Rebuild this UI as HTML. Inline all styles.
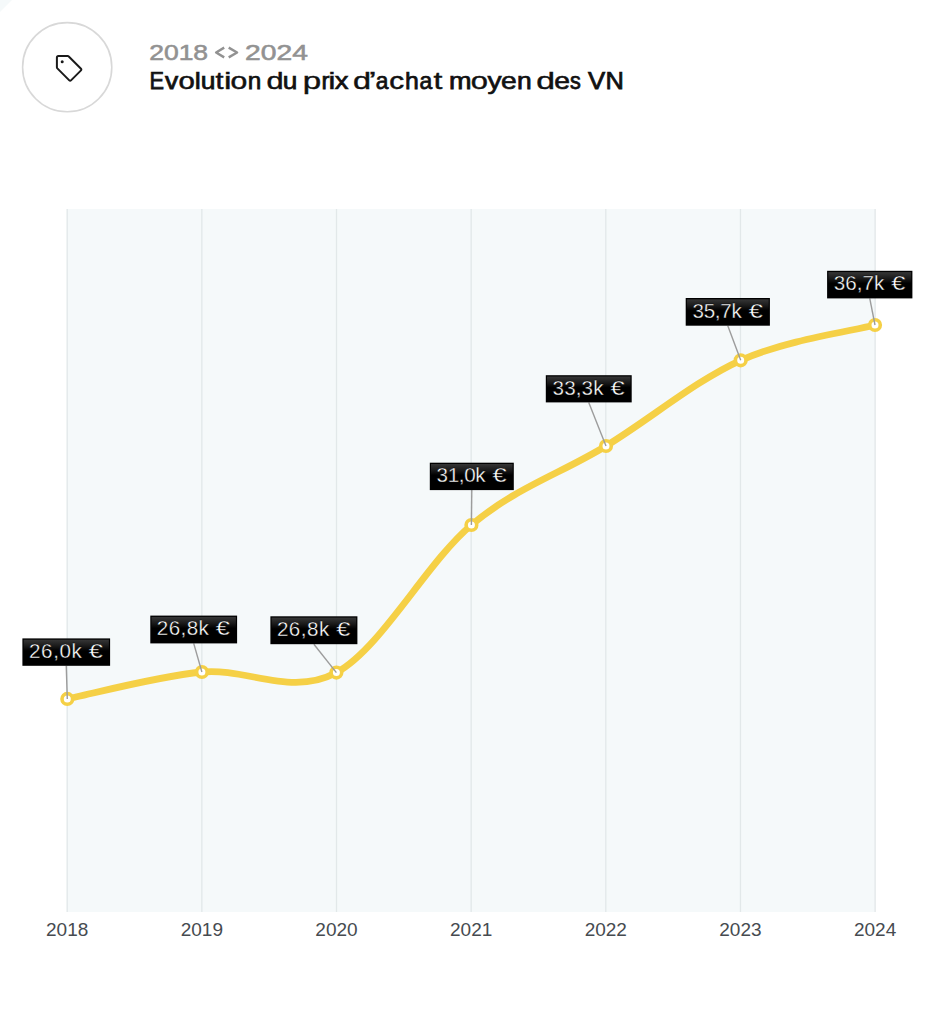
<!DOCTYPE html>
<html lang="fr"><head><meta charset="utf-8"><title>Evolution du prix d'achat moyen des VN</title>
<style>
html,body{margin:0;padding:0;background:#fff;}
body{width:933px;height:1024px;position:relative;overflow:hidden;font-family:"Liberation Sans",sans-serif;}
svg{position:absolute;left:0;top:0;display:block}
</style></head><body>
<svg width="933" height="1024" viewBox="0 0 933 1024">
<defs><linearGradient id="lg" x1="0" y1="0" x2="0" y2="1"><stop offset="0" stop-color="#363636"/><stop offset="0.25" stop-color="#1a1a1a"/><stop offset="0.45" stop-color="#000"/></linearGradient></defs>
<polygon points="0,0 12,0 0,12" fill="#f5f9fa"/>
<rect x="66.7" y="209" width="809" height="703" fill="#f5f9fa"/>
<rect x="66.55" y="209" width="1.3" height="703" fill="#e2e8e9"/>
<rect x="201.20" y="209" width="1.3" height="703" fill="#e2e8e9"/>
<rect x="335.85" y="209" width="1.3" height="703" fill="#e2e8e9"/>
<rect x="470.50" y="209" width="1.3" height="703" fill="#e2e8e9"/>
<rect x="605.15" y="209" width="1.3" height="703" fill="#e2e8e9"/>
<rect x="739.80" y="209" width="1.3" height="703" fill="#e2e8e9"/>
<rect x="874.45" y="209" width="1.3" height="703" fill="#e2e8e9"/>
<circle cx="67.2" cy="67.2" r="44.6" fill="#fff" stroke="#d8d8d8" stroke-width="1.6"/>
<path d="M58.4,55.8 H67.7 a1.5,1.5 0 0 1 1.06,0.44 L81.0,68.5 a1.2,1.2 0 0 1 0,1.7 L71.0,80.2 a1.2,1.2 0 0 1 -1.7,0 L57.34,68.2 a1.5,1.5 0 0 1 -0.44,-1.06 V57.3 a1.5,1.5 0 0 1 1.5,-1.5 Z" fill="none" stroke="#1a1a1a" stroke-width="2" stroke-linejoin="round" transform="translate(0,0.2)"/>
<circle cx="62.2" cy="61.8" r="1.5" fill="#1a1a1a"/>
<text x="149.18" y="60.4" font-family="Liberation Sans, sans-serif" font-size="22.1" fill="#929292" stroke="#929292" stroke-width="0.55" textLength="58.94" lengthAdjust="spacingAndGlyphs">2018</text>
<text x="245.14" y="60.4" font-family="Liberation Sans, sans-serif" font-size="22.1" fill="#929292" stroke="#929292" stroke-width="0.55" textLength="62.83" lengthAdjust="spacingAndGlyphs">2024</text>
<path d="M224.2,47.65 L216.1,52.5 L224.2,57.35 M228.7,47.65 L237.1,52.5 L228.7,57.35" fill="none" stroke="#929292" stroke-width="2.4" stroke-linejoin="round"/>
<text x="149.42" y="88.5" font-family="Liberation Sans, sans-serif" font-size="23.2" font-weight="normal" fill="#111" stroke="#111" stroke-width="0.75" textLength="14.52" lengthAdjust="spacingAndGlyphs">E</text>
<text x="164.93" y="88.5" font-family="Liberation Sans, sans-serif" font-size="23.2" font-weight="normal" fill="#111" stroke="#111" stroke-width="0.75" textLength="13.20" lengthAdjust="spacingAndGlyphs">v</text>
<text x="178.60" y="88.5" font-family="Liberation Sans, sans-serif" font-size="23.2" font-weight="normal" fill="#111" stroke="#111" stroke-width="0.54" textLength="16.33" lengthAdjust="spacingAndGlyphs">o</text>
<text x="194.21" y="88.5" font-family="Liberation Sans, sans-serif" font-size="23.2" font-weight="normal" fill="#111" stroke="#111" stroke-width="0.40" textLength="6.96" lengthAdjust="spacingAndGlyphs">l</text>
<text x="200.66" y="88.5" font-family="Liberation Sans, sans-serif" font-size="23.2" font-weight="normal" fill="#111" stroke="#111" stroke-width="0.75" textLength="14.71" lengthAdjust="spacingAndGlyphs">u</text>
<text x="215.59" y="88.5" font-family="Liberation Sans, sans-serif" font-size="23.2" font-weight="normal" fill="#111" stroke="#111" stroke-width="0.51" textLength="8.01" lengthAdjust="spacingAndGlyphs">t</text>
<text x="224.11" y="88.5" font-family="Liberation Sans, sans-serif" font-size="23.2" font-weight="normal" fill="#111" stroke="#111" stroke-width="0.40" textLength="7.52" lengthAdjust="spacingAndGlyphs">i</text>
<text x="230.64" y="88.5" font-family="Liberation Sans, sans-serif" font-size="23.2" font-weight="normal" fill="#111" stroke="#111" stroke-width="0.48" textLength="16.76" lengthAdjust="spacingAndGlyphs">o</text>
<text x="247.70" y="88.5" font-family="Liberation Sans, sans-serif" font-size="23.2" font-weight="normal" fill="#111" stroke="#111" stroke-width="0.75" textLength="13.53" lengthAdjust="spacingAndGlyphs">n</text>
<text x="266.59" y="88.5" font-family="Liberation Sans, sans-serif" font-size="23.2" font-weight="normal" fill="#111" stroke="#111" stroke-width="0.43" textLength="17.13" lengthAdjust="spacingAndGlyphs">d</text>
<text x="282.78" y="88.5" font-family="Liberation Sans, sans-serif" font-size="23.2" font-weight="normal" fill="#111" stroke="#111" stroke-width="0.75" textLength="14.57" lengthAdjust="spacingAndGlyphs">u</text>
<text x="302.86" y="88.5" font-family="Liberation Sans, sans-serif" font-size="23.2" font-weight="normal" fill="#111" stroke="#111" stroke-width="0.40" textLength="18.41" lengthAdjust="spacingAndGlyphs">p</text>
<text x="321.43" y="88.5" font-family="Liberation Sans, sans-serif" font-size="23.2" font-weight="normal" fill="#111" stroke="#111" stroke-width="0.75" textLength="7.96" lengthAdjust="spacingAndGlyphs">r</text>
<text x="328.38" y="88.5" font-family="Liberation Sans, sans-serif" font-size="23.2" font-weight="normal" fill="#111" stroke="#111" stroke-width="0.40" textLength="7.28" lengthAdjust="spacingAndGlyphs">i</text>
<text x="334.65" y="88.5" font-family="Liberation Sans, sans-serif" font-size="23.2" font-weight="normal" fill="#111" stroke="#111" stroke-width="0.68" textLength="13.72" lengthAdjust="spacingAndGlyphs">x</text>
<text x="353.10" y="88.5" font-family="Liberation Sans, sans-serif" font-size="23.2" font-weight="normal" fill="#111" stroke="#111" stroke-width="0.40" textLength="18.04" lengthAdjust="spacingAndGlyphs">d</text>
<text x="368.57" y="88.5" font-family="Liberation Sans, sans-serif" font-size="23.2" font-weight="normal" fill="#111" stroke="#111" stroke-width="0.40" textLength="8.02" lengthAdjust="spacingAndGlyphs">’</text>
<text x="375.69" y="88.5" font-family="Liberation Sans, sans-serif" font-size="23.2" font-weight="normal" fill="#111" stroke="#111" stroke-width="0.75" textLength="12.66" lengthAdjust="spacingAndGlyphs">a</text>
<text x="389.37" y="88.5" font-family="Liberation Sans, sans-serif" font-size="23.2" font-weight="normal" fill="#111" stroke="#111" stroke-width="0.51" textLength="14.83" lengthAdjust="spacingAndGlyphs">c</text>
<text x="404.93" y="88.5" font-family="Liberation Sans, sans-serif" font-size="23.2" font-weight="normal" fill="#111" stroke="#111" stroke-width="0.75" textLength="13.83" lengthAdjust="spacingAndGlyphs">h</text>
<text x="419.39" y="88.5" font-family="Liberation Sans, sans-serif" font-size="23.2" font-weight="normal" fill="#111" stroke="#111" stroke-width="0.75" textLength="12.77" lengthAdjust="spacingAndGlyphs">a</text>
<text x="433.48" y="88.5" font-family="Liberation Sans, sans-serif" font-size="23.2" font-weight="normal" fill="#111" stroke="#111" stroke-width="0.40" textLength="8.90" lengthAdjust="spacingAndGlyphs">t</text>
<text x="448.93" y="88.5" font-family="Liberation Sans, sans-serif" font-size="23.2" font-weight="normal" fill="#111" stroke="#111" stroke-width="0.75" textLength="22.54" lengthAdjust="spacingAndGlyphs">m</text>
<text x="470.88" y="88.5" font-family="Liberation Sans, sans-serif" font-size="23.2" font-weight="normal" fill="#111" stroke="#111" stroke-width="0.42" textLength="17.18" lengthAdjust="spacingAndGlyphs">o</text>
<text x="487.56" y="88.5" font-family="Liberation Sans, sans-serif" font-size="23.2" font-weight="normal" fill="#111" stroke="#111" stroke-width="0.62" textLength="14.14" lengthAdjust="spacingAndGlyphs">y</text>
<text x="500.99" y="88.5" font-family="Liberation Sans, sans-serif" font-size="23.2" font-weight="normal" fill="#111" stroke="#111" stroke-width="0.62" textLength="15.77" lengthAdjust="spacingAndGlyphs">e</text>
<text x="516.96" y="88.5" font-family="Liberation Sans, sans-serif" font-size="23.2" font-weight="normal" fill="#111" stroke="#111" stroke-width="0.75" textLength="14.71" lengthAdjust="spacingAndGlyphs">n</text>
<text x="536.24" y="88.5" font-family="Liberation Sans, sans-serif" font-size="23.2" font-weight="normal" fill="#111" stroke="#111" stroke-width="0.40" textLength="18.78" lengthAdjust="spacingAndGlyphs">d</text>
<text x="554.29" y="88.5" font-family="Liberation Sans, sans-serif" font-size="23.2" font-weight="normal" fill="#111" stroke="#111" stroke-width="0.62" textLength="15.77" lengthAdjust="spacingAndGlyphs">e</text>
<text x="569.99" y="88.5" font-family="Liberation Sans, sans-serif" font-size="23.2" font-weight="normal" fill="#111" stroke="#111" stroke-width="0.75" textLength="10.82" lengthAdjust="spacingAndGlyphs">s</text>
<text x="588.14" y="88.5" font-family="Liberation Sans, sans-serif" font-size="23.2" font-weight="normal" fill="#111" stroke="#111" stroke-width="0.75" textLength="17.19" lengthAdjust="spacingAndGlyphs">V</text>
<text x="605.52" y="88.5" font-family="Liberation Sans, sans-serif" font-size="23.2" font-weight="normal" fill="#111" stroke="#111" stroke-width="0.75" textLength="18.36" lengthAdjust="spacingAndGlyphs">N</text>
<path d="M67.30,698.90 C89.73,694.42 157.05,676.38 201.90,672.00 C246.75,667.62 291.48,697.10 336.40,672.60 C381.32,648.10 426.47,562.77 471.40,525.00 C516.33,487.23 561.12,473.45 606.00,446.00 C650.88,418.55 695.87,380.47 740.70,360.30 C785.53,340.13 852.62,330.88 875.00,325.00" fill="none" stroke="#f5d046" stroke-width="6.8" stroke-linecap="round" stroke-linejoin="round"/>
<circle cx="67.30" cy="698.90" r="5.3" fill="#fff" stroke="#f5d046" stroke-width="3.6"/>
<circle cx="201.90" cy="672.00" r="5.3" fill="#fff" stroke="#f5d046" stroke-width="3.6"/>
<circle cx="336.40" cy="672.60" r="5.3" fill="#fff" stroke="#f5d046" stroke-width="3.6"/>
<circle cx="471.40" cy="525.00" r="5.3" fill="#fff" stroke="#f5d046" stroke-width="3.6"/>
<circle cx="606.00" cy="446.00" r="5.3" fill="#fff" stroke="#f5d046" stroke-width="3.6"/>
<circle cx="740.70" cy="360.30" r="5.3" fill="#fff" stroke="#f5d046" stroke-width="3.6"/>
<circle cx="875.00" cy="325.00" r="5.3" fill="#fff" stroke="#f5d046" stroke-width="3.6"/>
<line x1="66.25" y1="665.80" x2="67.30" y2="698.90" stroke="#9c9c9c" stroke-width="1.4"/>
<line x1="193.70" y1="643.40" x2="201.90" y2="672.00" stroke="#9c9c9c" stroke-width="1.4"/>
<line x1="313.90" y1="644.20" x2="336.40" y2="672.60" stroke="#9c9c9c" stroke-width="1.4"/>
<line x1="471.80" y1="490.10" x2="471.40" y2="525.00" stroke="#9c9c9c" stroke-width="1.4"/>
<line x1="588.75" y1="402.40" x2="606.00" y2="446.00" stroke="#9c9c9c" stroke-width="1.4"/>
<line x1="727.80" y1="325.70" x2="740.70" y2="360.30" stroke="#9c9c9c" stroke-width="1.4"/>
<line x1="869.75" y1="298.40" x2="875.00" y2="325.00" stroke="#9c9c9c" stroke-width="1.4"/>
<rect x="22.40" y="638.40" width="87.70" height="27.40" fill="#000"/>
<rect x="23.60" y="639.70" width="85.30" height="24.90" fill="url(#lg)"/>
<text x="28.90" y="657.95" font-family="Liberation Sans, sans-serif" font-size="20.6" fill="#fff" stroke="#000" stroke-width="0.35" paint-order="fill stroke" textLength="53.02" lengthAdjust="spacing">26,0k</text>
<text x="88.85" y="657.95" font-family="Liberation Sans, sans-serif" font-size="20.6" fill="#fff" stroke="#000" stroke-width="0.35" paint-order="fill stroke" textLength="14.08" lengthAdjust="spacingAndGlyphs">€</text>
<rect x="150.30" y="615.60" width="86.80" height="27.80" fill="#000"/>
<rect x="151.50" y="616.90" width="84.40" height="25.30" fill="url(#lg)"/>
<text x="156.80" y="635.15" font-family="Liberation Sans, sans-serif" font-size="20.6" fill="#fff" stroke="#000" stroke-width="0.35" paint-order="fill stroke" textLength="52.12" lengthAdjust="spacing">26,8k</text>
<text x="215.85" y="635.15" font-family="Liberation Sans, sans-serif" font-size="20.6" fill="#fff" stroke="#000" stroke-width="0.35" paint-order="fill stroke" textLength="14.08" lengthAdjust="spacingAndGlyphs">€</text>
<rect x="270.40" y="616.30" width="87.00" height="27.90" fill="#000"/>
<rect x="271.60" y="617.60" width="84.60" height="25.40" fill="url(#lg)"/>
<text x="276.90" y="635.85" font-family="Liberation Sans, sans-serif" font-size="20.6" fill="#fff" stroke="#000" stroke-width="0.35" paint-order="fill stroke" textLength="52.32" lengthAdjust="spacing">26,8k</text>
<text x="336.15" y="635.85" font-family="Liberation Sans, sans-serif" font-size="20.6" fill="#fff" stroke="#000" stroke-width="0.35" paint-order="fill stroke" textLength="14.08" lengthAdjust="spacingAndGlyphs">€</text>
<rect x="429.80" y="462.70" width="84.00" height="27.40" fill="#000"/>
<rect x="431.00" y="464.00" width="81.60" height="24.90" fill="url(#lg)"/>
<text x="436.55" y="482.25" font-family="Liberation Sans, sans-serif" font-size="20.6" fill="#fff" stroke="#000" stroke-width="0.35" paint-order="fill stroke" textLength="49.07" lengthAdjust="spacing">31,0k</text>
<text x="492.55" y="482.25" font-family="Liberation Sans, sans-serif" font-size="20.6" fill="#fff" stroke="#000" stroke-width="0.35" paint-order="fill stroke" textLength="14.08" lengthAdjust="spacingAndGlyphs">€</text>
<rect x="545.80" y="375.20" width="85.90" height="27.20" fill="#000"/>
<rect x="547.00" y="376.50" width="83.50" height="24.70" fill="url(#lg)"/>
<text x="552.55" y="394.75" font-family="Liberation Sans, sans-serif" font-size="20.6" fill="#fff" stroke="#000" stroke-width="0.35" paint-order="fill stroke" textLength="50.97" lengthAdjust="spacing">33,3k</text>
<text x="610.45" y="394.75" font-family="Liberation Sans, sans-serif" font-size="20.6" fill="#fff" stroke="#000" stroke-width="0.35" paint-order="fill stroke" textLength="14.08" lengthAdjust="spacingAndGlyphs">€</text>
<rect x="685.70" y="298.00" width="84.20" height="27.70" fill="#000"/>
<rect x="686.90" y="299.30" width="81.80" height="25.20" fill="url(#lg)"/>
<text x="692.45" y="317.55" font-family="Liberation Sans, sans-serif" font-size="20.6" fill="#fff" stroke="#000" stroke-width="0.35" paint-order="fill stroke" textLength="49.27" lengthAdjust="spacing">35,7k</text>
<text x="748.65" y="317.55" font-family="Liberation Sans, sans-serif" font-size="20.6" fill="#fff" stroke="#000" stroke-width="0.35" paint-order="fill stroke" textLength="14.08" lengthAdjust="spacingAndGlyphs">€</text>
<rect x="827.10" y="270.80" width="85.30" height="27.60" fill="#000"/>
<rect x="828.30" y="272.10" width="82.90" height="25.10" fill="url(#lg)"/>
<text x="833.85" y="290.35" font-family="Liberation Sans, sans-serif" font-size="20.6" fill="#fff" stroke="#000" stroke-width="0.35" paint-order="fill stroke" textLength="50.37" lengthAdjust="spacing">36,7k</text>
<text x="891.15" y="290.35" font-family="Liberation Sans, sans-serif" font-size="20.6" fill="#fff" stroke="#000" stroke-width="0.35" paint-order="fill stroke" textLength="14.08" lengthAdjust="spacingAndGlyphs">€</text>
<text x="67.20" y="935.7" text-anchor="middle" font-family="Liberation Sans, sans-serif" font-size="19" fill="#464b50">2018</text>
<text x="201.85" y="935.7" text-anchor="middle" font-family="Liberation Sans, sans-serif" font-size="19" fill="#464b50">2019</text>
<text x="336.50" y="935.7" text-anchor="middle" font-family="Liberation Sans, sans-serif" font-size="19" fill="#464b50">2020</text>
<text x="471.15" y="935.7" text-anchor="middle" font-family="Liberation Sans, sans-serif" font-size="19" fill="#464b50">2021</text>
<text x="605.80" y="935.7" text-anchor="middle" font-family="Liberation Sans, sans-serif" font-size="19" fill="#464b50">2022</text>
<text x="740.45" y="935.7" text-anchor="middle" font-family="Liberation Sans, sans-serif" font-size="19" fill="#464b50">2023</text>
<text x="875.10" y="935.7" text-anchor="middle" font-family="Liberation Sans, sans-serif" font-size="19" fill="#464b50">2024</text>
</svg>
</body></html>
